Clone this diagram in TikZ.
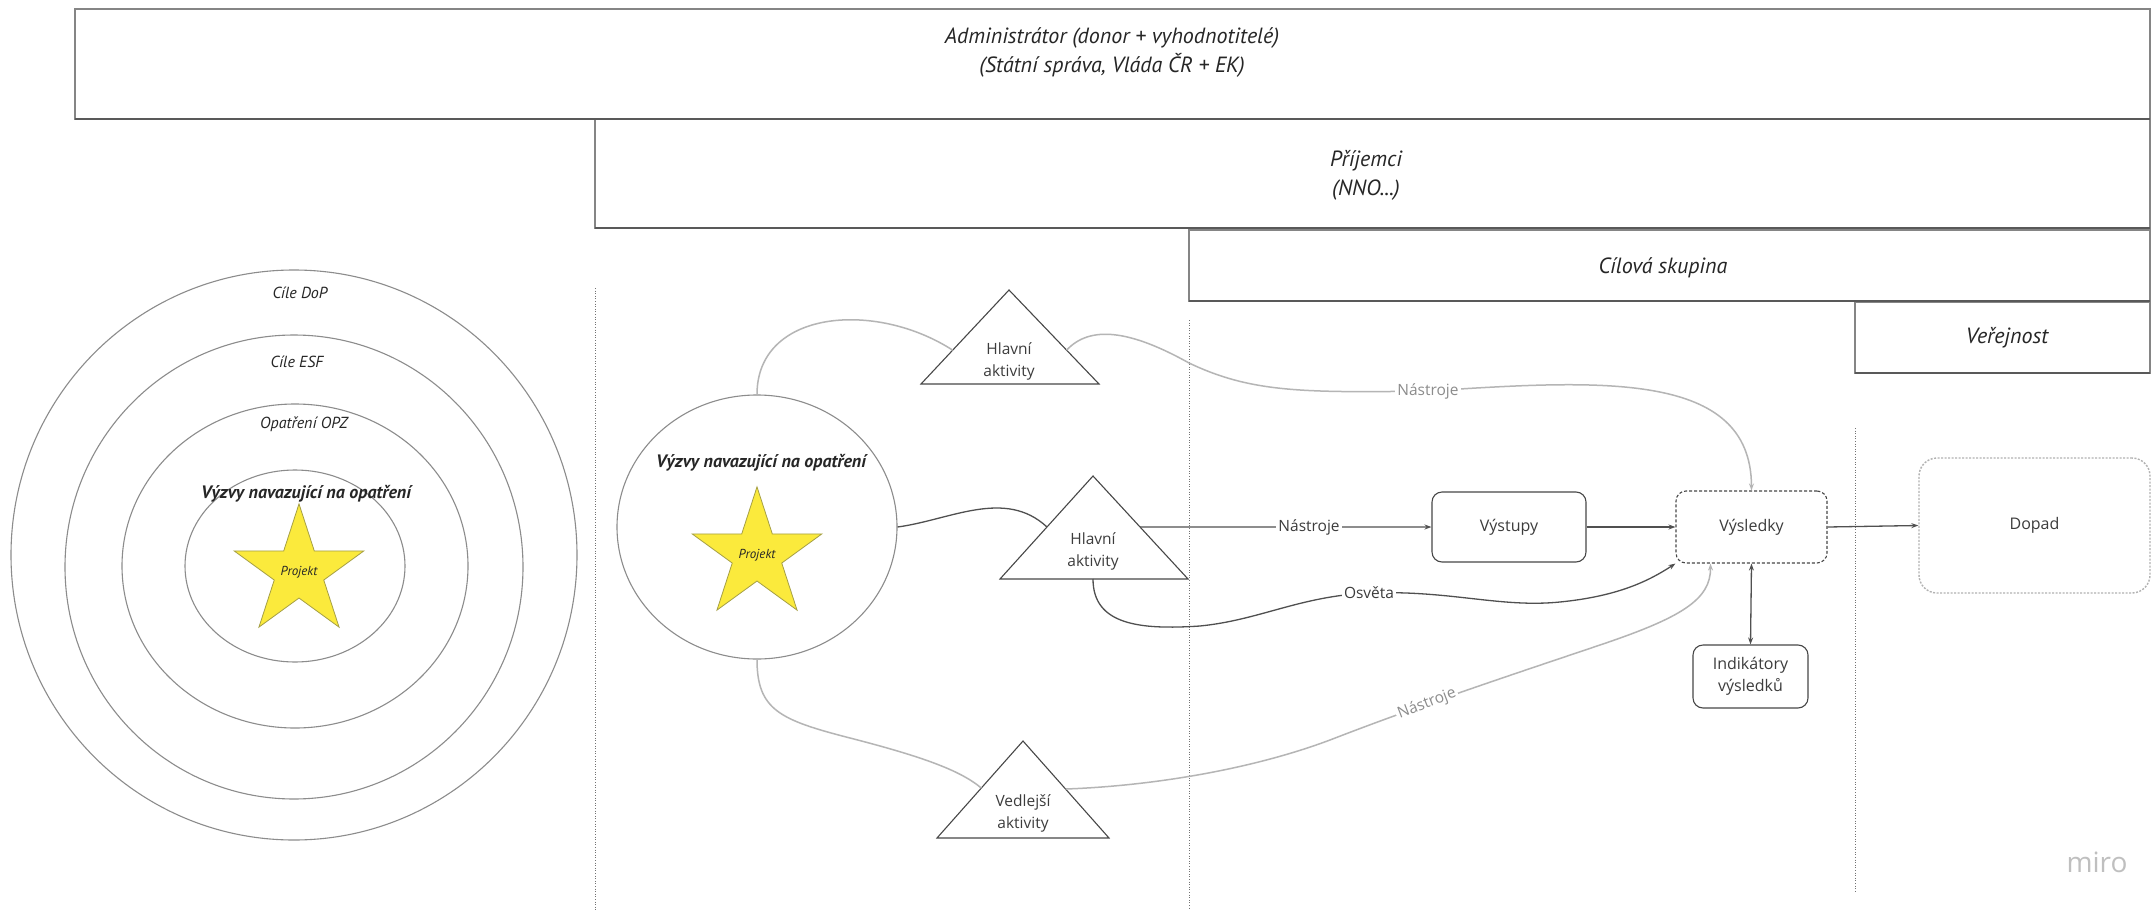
\documentclass[tikz,border=0pt]{standalone}
\usepackage{fontspec}
\setmainfont{Open Sans}
\newfontfamily\hand{PT Sans}
\usetikzlibrary{arrows.meta,shapes.geometric,calc}
\definecolor{lgray}{HTML}{B5B5B5}
\definecolor{dgray}{HTML}{505050}
\definecolor{txt}{HTML}{3C3C3C}
\definecolor{ltxt}{HTML}{8C8C8C}
\definecolor{staryellow}{HTML}{FBEA3C}
\definecolor{starline}{HTML}{A59F45}
\begin{document}
\begin{tikzpicture}[x=1pt,y=-1pt,
  hbox/.style={draw=black!48, line width=1.3pt},
  hshadow/.style={draw=black!65, line width=1.8pt},
  handtxt/.style={font=\hand\itshape\fontsize{22}{29}\selectfont, text=black!85, align=center, inner sep=0},
  ringtxt/.style={font=\hand\itshape\fontsize{16}{20}\selectfont, text=black!85, inner sep=0},
  boldhand/.style={font=\hand\bfseries\itshape\fontsize{#1}{20}\selectfont, text=black!85, inner sep=0},
  vdot/.style={draw=black!55, line width=0.8pt, dash pattern=on 1pt off 1.6pt},
  ring/.style={draw=black!45, line width=1.1pt},
  starshape/.style={star, star points=5, star point ratio=2.618, fill=staryellow, draw=starline, line width=0.8pt, inner sep=0, font=\hand\itshape\fontsize{13}{15}\selectfont, text=black!85},
  tri/.style={draw=black!72, line width=1.1pt, line join=miter},
  trilbl/.style={font=\fontsize{15.5}{22}\selectfont, text=txt, align=center, inner sep=0},
  rbox/.style={draw=black!72, line width=1.1pt, rounded corners=10pt, font=\fontsize{16}{22}\selectfont, text=txt, align=center, inner sep=0},
  dbox/.style={draw=black!72, line width=1.1pt, rounded corners=10pt, dash pattern=on 3pt off 2pt, font=\fontsize{16}{22}\selectfont, text=txt, inner sep=0},
  pbox/.style={draw=black!30, line width=1.4pt, rounded corners=18pt, dash pattern=on 2pt off 1.5pt, font=\fontsize{16}{22}\selectfont, text=txt, inner sep=0},
  dk/.style={draw=dgray, line width=1.3pt},
  lt/.style={draw=lgray, line width=1.5pt},
  arr/.style={-{Stealth[length=7pt,width=5pt]}},
  darr/.style={{Stealth[length=7pt,width=5pt]}-{Stealth[length=7pt,width=5pt]}},
  lblbg/.style={fill=white, inner sep=2pt, font=\fontsize{15.5}{20}\selectfont}
]
\fill[white] (0,0) rectangle (2153,910);
\useasboundingbox (0,0) rectangle (2153,910);

% top stacked boxes
\draw[hbox] (75,9) rectangle (2150,119);
\draw[hbox] (595,119) rectangle (2150,228);
\draw[hbox] (1189,230) rectangle (2150,301);
\draw[hbox] (1855,302) rectangle (2150,373);
\draw[hshadow] (75,119) -- (2150,119);
\draw[hshadow] (595,228) -- (2150,228);
\draw[hshadow] (1189,301) -- (2150,301);
\draw[hshadow] (1855,373) -- (2150,373);
\node[handtxt] (admtxt) at (1112,52) {Administrátor (donor + vyhodnotitelé)\\(Státní správa, Vláda ČR + EK)};
\node[handtxt] (prijtxt) at (1366,175) {Příjemci\\(NNO...)};
\node[handtxt] (cstxt) at (1663,268) {Cílová skupina};
\node[handtxt] (vertxt) at (2007,338) {Veřejnost};

% dotted separators
\draw[vdot] (595,288) -- (595,910);
\draw[vdot] (1189,320) -- (1189,910);
\draw[vdot] (1855,428) -- (1855,892);

% concentric rings
\draw[ring] (294,555) ellipse [x radius=283, y radius=285];
\draw[ring] (294,567) ellipse [x radius=229, y radius=232];
\draw[ring] (295,566) ellipse [x radius=173, y radius=162];
\draw[ring] (295,566) ellipse [x radius=110, y radius=96];
\node[ringtxt] (r1) at (300,293) {Cíle DoP};
\node[ringtxt] (r2) at (297,362) {Cíle ESF};
\node[ringtxt] (r3) at (304,424) {Opatření OPZ};
\node[boldhand=18] (r4) at (306,494) {Výzvy navazující na opatření};
\node[starshape, minimum size=114] (s1) at (299,572) {Projekt};

% middle circle
\node[ring, ellipse, minimum width=280, minimum height=264, inner sep=0] (vz) at (757,527) {};
\node[boldhand=18] (vztxt) at (761,463) {Výzvy navazující na opatření};
\node[starshape, minimum size=124] (s2) at (757,555) {Projekt};

% triangles
\coordinate (t1a) at (1009,290); \coordinate (t1l) at (921,384); \coordinate (t1r) at (1099,384);
\draw[tri] (t1a) -- (t1l) -- (t1r) -- cycle;
\node[trilbl] (t1) at (1009,361) {Hlavní\\aktivity};
\coordinate (t1w) at ($(t1a)!0.64!(t1l)$);
\coordinate (t1e) at ($(t1a)!0.64!(t1r)$);

\coordinate (t2a) at (1093,476); \coordinate (t2l) at (1000,579); \coordinate (t2r) at (1188,579);
\draw[tri] (t2a) -- (t2l) -- (t2r) -- cycle;
\node[trilbl] (t2) at (1093,551) {Hlavní\\aktivity};
\coordinate (t2w) at ($(t2a)!0.495!(t2l)$);
\coordinate (t2e) at ($(t2a)!0.495!(t2r)$);
\coordinate (t2s) at (1093,579);

\coordinate (t3a) at (1023,741); \coordinate (t3l) at (937,838); \coordinate (t3r) at (1109,838);
\draw[tri] (t3a) -- (t3l) -- (t3r) -- cycle;
\node[trilbl] (t3) at (1023,813) {Vedlejší\\aktivity};
\coordinate (t3w) at ($(t3a)!0.485!(t3l)$);
\coordinate (t3e) at ($(t3a)!0.495!(t3r)$);

% result boxes
\node[rbox, minimum width=154, minimum height=70] (vys) at (1509,527) {Výstupy};
\node[dbox, minimum width=151, minimum height=72] (vsl) at (1751.5,527) {Výsledky};
\node[pbox, minimum width=231, minimum height=135] (dop) at (2034.5,525.5) {Dopad};
\node[rbox, minimum width=115, minimum height=63] (ind) at (1750.5,676.5) {Indikátory\\výsledků};
\coordinate (vslb) at ($(vsl.south west)!0.23!(vsl.south east)$);

% connectors
\draw[lt] (vz.north) .. controls (757,310) and (875,300) .. (t1w);
\draw[lt, arr] (t1e) .. controls (1090,325) and (1130,330) .. (1189,363) .. controls (1250,392) and (1300,393) .. (1428,391) .. controls (1600,380) and (1751,370) .. (vsl.north);
\node[lblbg, text=ltxt] (n2) at (1428,391) {Nástroje};

\draw[dk] (vz.east) .. controls (950,520) and (1005,488) .. (t2w);
\draw[dk, arr] (t2e) -- node[lblbg, text=txt, pos=0.58] (n1) {Nástroje} (vys.west);
\draw[dk, arr] (vys.east) -- (vsl.west);
\draw[dk, arr] (vsl.east) -- (dop.west);
\draw[dk, darr] (vsl.south) -- (ind.north);

\draw[dk, arr] (t2s) .. controls (1093,625) and (1140,630) .. (1200,626) .. controls (1260,620) and (1300,596) .. (1369,593) .. controls (1450,590) and (1500,608) .. (1560,602) .. controls (1620,596) and (1650,580) .. (vsl.south west);
\node[lblbg, text=txt] (n3) at (1369,593) {Osvěta};

\draw[lt] (vz.south) .. controls (757,710) and (780,720) .. (850,738) .. controls (920,756) and (960,770) .. (t3w);
\draw[lt, arr] (t3e) .. controls (1150,786) and (1250,770) .. (1330,740) .. controls (1420,705) and (1520,672) .. (1600,645) .. controls (1680,618) and (1711,600) .. (vslb);
\node[lblbg, text=ltxt, rotate=21] (n4) at (1427,704) {Nástroje};

% watermark
\node[font=\fontsize{28}{30}\selectfont, text=black!25, inner sep=0] (miro) at (2097,862) {miro};
\end{tikzpicture}
\end{document}
